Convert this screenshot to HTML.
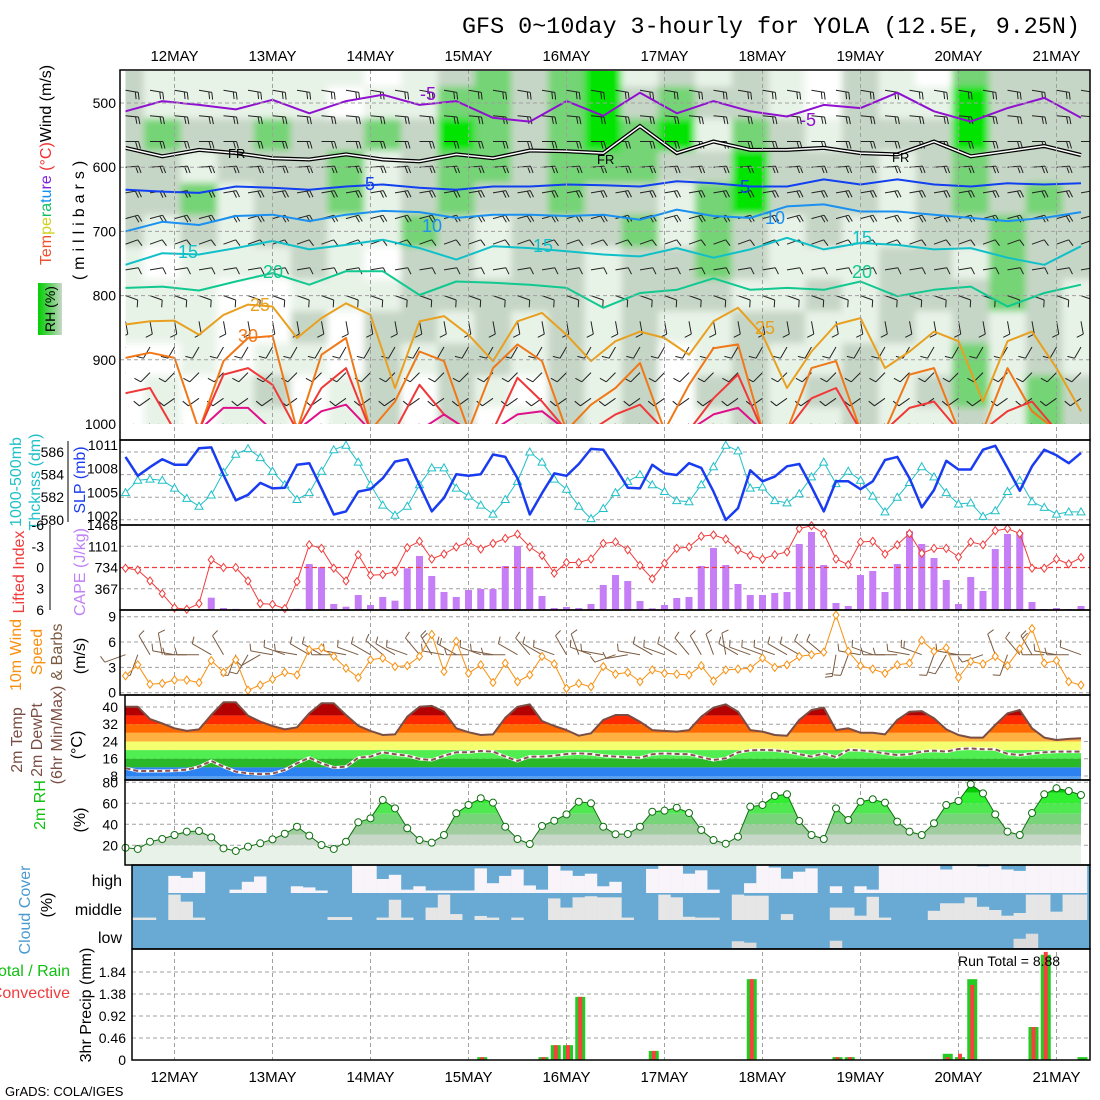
<!DOCTYPE html>
<html><head><meta charset="utf-8"><title>GFS meteogram YOLA</title>
<style>
html,body{margin:0;padding:0;background:#fff;}
svg{display:block;font-family:"Liberation Sans",sans-serif;}
.tk{font-size:14px;fill:#000;}
.lab{font-size:16px;}
</style></head>
<body>
<svg id="chart" xmlns="http://www.w3.org/2000/svg" width="1100" height="1100" viewBox="0 0 1100 1100">
<defs>
<clipPath id="clipUp"><rect x="125.5" y="71" width="964.5" height="353"/></clipPath>
<clipPath id="clipCloud"><rect x="132" y="865" width="958" height="84"/></clipPath>
<filter id="blur" x="-5%" y="-5%" width="110%" height="110%"><feGaussianBlur stdDeviation="3.5"/></filter>
<linearGradient id="rhbox" x1="0" y1="0" x2="1" y2="0"><stop offset="0" stop-color="#00d000"/><stop offset="0.5" stop-color="#60d060"/><stop offset="1" stop-color="#c8d8c8"/></linearGradient>
</defs>
<rect x="0" y="0" width="1100" height="1100" fill="#fff"/>
<text x="1080" y="33" text-anchor="end" font-family="Liberation Mono, monospace" font-size="23" textLength="618" lengthAdjust="spacingAndGlyphs">GFS 0~10day 3-hourly for YOLA (12.5E, 9.25N)</text>

<g id="layerUp"></g>
<g id="layerGrid"></g>
<g id="layerMarks"></g>

<g font-size="18">
<text x="420" y="100" fill="#9010d0">-5</text>
<text x="800" y="126" fill="#9010d0">-5</text>
<text x="228" y="158" font-size="13" fill="#000">FR</text>
<text x="597" y="164" font-size="13" fill="#000">FR</text>
<text x="892" y="162" font-size="13" fill="#000">FR</text>
<text x="365" y="190" fill="#1040f0">5</text>
<text x="740" y="193" fill="#1040f0">5</text>
<text x="422" y="232" fill="#1a90f0">10</text>
<text x="765" y="224" fill="#1a90f0">10</text>
<text x="178" y="258" fill="#10c0c8">15</text>
<text x="533" y="252" fill="#10c0c8">15</text>
<text x="852" y="244" fill="#10c0c8">15</text>
<text x="263" y="278" fill="#10c890">20</text>
<text x="852" y="278" fill="#10c890">20</text>
<text x="250" y="311" fill="#e8a020">25</text>
<text x="755" y="334" fill="#e8a020">25</text>
<text x="238" y="342" fill="#f07818">30</text>
</g>

<g class="lab">
<text transform="translate(51,165) rotate(-90)" text-anchor="middle"><tspan fill="#f05030">Tem</tspan><tspan fill="#d0d020">pe</tspan><tspan fill="#10c060">ra</tspan><tspan fill="#1090f0">tu</tspan><tspan fill="#8020e0">re</tspan><tspan fill="#f03030"> (°C)</tspan><tspan fill="#000">Wind (m/s)</tspan></text>
<text transform="translate(84,218) rotate(-90)" text-anchor="middle" letter-spacing="5">(millibars)</text>
<rect x="38" y="283" width="24" height="52" fill="url(#rhbox)"/>
<text transform="translate(55,309) rotate(-90)" text-anchor="middle" font-size="14">RH (%)</text>
<text transform="translate(21,482) rotate(-90)" text-anchor="middle" fill="#20c0c8">1000-500mb</text>
<text transform="translate(40,482) rotate(-90)" text-anchor="middle" fill="#20c0c8">Thcknss (dm)</text>
<text transform="translate(85,480) rotate(-90)" text-anchor="middle" fill="#1a3cf0">SLP (mb)</text>
<text transform="translate(24,572) rotate(-90)" text-anchor="middle" fill="#f03c3c">Lifted Index</text>
<text transform="translate(85,572) rotate(-90)" text-anchor="middle" fill="#c080f8">CAPE (J/kg)</text>
<text transform="translate(21,655) rotate(-90)" text-anchor="middle" fill="#f89010">10m Wind</text>
<text transform="translate(42,652) rotate(-90)" text-anchor="middle" fill="#f89010">Speed</text>
<text transform="translate(62,652) rotate(-90)" text-anchor="middle" fill="#7a5a40">&amp; Barbs</text>
<text transform="translate(85,656) rotate(-90)" text-anchor="middle">(m/s)</text>
<text transform="translate(22,740) rotate(-90)" text-anchor="middle" fill="#7a4e44">2m Temp</text>
<text transform="translate(42,740) rotate(-90)" text-anchor="middle" fill="#7a4e44">2m DewPt</text>
<text transform="translate(62,735) rotate(-90)" text-anchor="middle" fill="#7a4e44">(6hr Min/Max)</text>
<text transform="translate(82,745) rotate(-90)" text-anchor="middle">(°C)</text>
<text transform="translate(45,805) rotate(-90)" text-anchor="middle" fill="#10c010">2m RH</text>
<text transform="translate(85,820) rotate(-90)" text-anchor="middle">(%)</text>
<text transform="translate(30,910) rotate(-90)" text-anchor="middle" fill="#4a9ad0">Cloud Cover</text>
<text transform="translate(52,905) rotate(-90)" text-anchor="middle">(%)</text>
<text x="70" y="976" text-anchor="end" fill="#10c010">Total / Rain</text>
<text x="70" y="998" text-anchor="end" fill="#f03c3c">Convective</text>
<text transform="translate(91,1005) rotate(-90)" text-anchor="middle">3hr Precip (mm)</text>
<text x="122" y="886" text-anchor="end">high</text>
<text x="122" y="915" text-anchor="end">middle</text>
<text x="122" y="943" text-anchor="end">low</text>
<text x="958" y="966" font-size="14">Run Total = 8.88</text>
<text x="5" y="1096" font-size="13">GrADS: COLA/IGES</text>
</g>
<g id="layerAxes"></g>
</svg>
<script>
const days = ['12MAY','13MAY','14MAY','15MAY','16MAY','17MAY','18MAY','19MAY','20MAY','21MAY'];
const slp = [1009.5,1007.1,1008.2,1009.2,1008.5,1008.5,1010.6,1010.7,1007.2,1004.0,
1004.7,1006.2,1005.5,1005.6,1008.5,1008.7,1005.5,1002.2,1002.6,1005.1,
1005.4,1006.8,1008.9,1009.2,1005.9,1002.6,1004.3,1007.3,1007.1,1007.3,
1009.8,1009.5,1006.8,1002.2,1004.9,1007.4,1007.1,1008.6,1010.5,1010.4,
1008.1,1005.6,1005.5,1008.5,1007.4,1007.2,1008.7,1008.1,1005.1,1001.5,
1003.0,1007.8,1006.4,1007.0,1008.3,1008.6,1005.7,1002.6,1006.4,1006.4,
1005.4,1006.4,1009.1,1009.5,1006.8,1003.1,1005.3,1009.0,1007.9,1007.9,
1010.4,1010.9,1008.1,1005.2,1008.3,1010.4,1009.7,1008.7,1010.0];
const thickness = [582.4,583.5,583.6,583.5,582.8,581.9,581.2,582.2,584.2,585.8,
586.3,585.5,584.3,583.1,581.8,582.4,584.3,586.2,586.6,585.1,
583.1,581.3,580.4,581.2,583.1,584.6,584.6,582.8,582.1,581.3,
580.5,581.8,583.4,586.0,585.1,583.6,582.7,581.2,580.1,581.0,
582.4,583.4,584.0,583.1,582.5,581.7,581.6,583.1,584.7,586.6,
586.1,582.8,582.9,581.7,581.5,582.3,583.8,585.1,583.2,584.3,
583.5,582.1,580.7,582.0,583.3,584.7,583.8,582.4,581.4,581.5,
580.3,580.8,582.5,583.5,581.6,581.1,580.5,580.7,580.7];
const liftedIndex = [0.1,0.35,1.9,3.7,5.7,5.9,5.1,-1.1,0,0,
1.9,5.1,5.2,5.8,2.0,-3.2,-2.7,0.1,1.9,-1.8,
1.1,1.0,0.6,-2.8,-3.7,-1.2,-1.9,-2.9,-3.6,-2.6,
-3.4,-4.1,-4.7,-2.9,-1.7,0.8,-0.7,-0.7,-1.2,-3.4,
-3.6,-2.5,-0.3,1.6,-0.6,-2.7,-2.9,-4.4,-4.6,-4.0,
-2.5,-1.7,-1.2,-1.8,-2.2,-5.5,-5.9,-4.8,-1.2,-0.4,
-3.6,-3.7,-1.9,-3.2,-4.8,-2.0,-2.7,-2.7,-1.5,-3.6,
-3.2,-5.2,-5.5,-4.8,0.1,0.1,-1.2,-0.5,-1.4];
const cape = [0,0,0,0,0,0,0,213,35,20,
0,0,0,0,20,794,743,104,57,259,
86,225,161,720,933,587,311,225,345,363,
363,760,1105,743,242,35,52,35,104,432,
604,501,155,29,86,207,225,760,1071,777,
449,259,259,294,311,1140,1347,777,121,69,
604,674,311,794,1364,1140,898,518,104,570,
328,1053,1313,1347,138,17,35,17,69];
const windSpeed = [2.0,3.3,1.0,1.1,1.5,1.5,1.2,3.8,2.4,3.9,
0.3,0.9,1.6,2.4,2.1,5.1,5.3,4.3,2.9,1.8,
3.9,4.1,3.1,3.2,4.3,6.9,2.5,6.1,2.3,3.3,
1.2,3.5,1.3,2.1,4.3,3.4,0.5,1.1,0.7,3.1,
2.2,2.4,1.3,2.7,2.3,2.2,2.1,3.2,1.4,2.7,
2.8,2.9,4.1,3.0,3.3,4.3,4.5,4.8,9.2,4.9,
3.2,2.8,2.3,3.3,3.5,6.2,4.9,5.3,1.8,3.7,
3.4,4.3,3.2,5.2,7.6,3.5,3.8,1.3,0.9];
const windDir = [250,200,330,350,280,270,270,300,330,200,
210,240,280,290,280,300,300,270,280,290,
300,310,300,290,320,330,280,300,270,290,
280,270,300,320,300,290,330,340,290,280,
250,260,280,300,290,300,320,330,340,350,
300,290,290,290,300,300,310,310,190,200,
280,290,270,270,280,290,200,210,280,270,
250,340,200,320,330,270,280,270,290];
const temp2m = [40.1,40.1,34.4,32.4,30.1,28.9,29.6,36.3,42.2,42.2,
36.0,33.2,31.2,29.6,30.6,37.1,41.7,41.7,36.3,31.3,
28.9,27.0,27.3,35.5,40.1,40.5,37.8,30.1,28.3,27.0,
27.3,35.0,40.1,41.2,33.5,31.2,29.3,26.7,27.8,34.0,
36.3,36.3,33.2,29.3,28.9,28.6,29.3,35.5,39.7,41.2,
37.8,29.3,28.6,27.0,26.7,34.0,38.6,39.7,29.3,30.1,
28.1,28.1,27.3,34.0,37.8,38.1,34.8,29.6,27.0,25.8,
25.8,31.7,37.1,38.6,30.1,25.8,24.7,25.2,25.5];
const dew2m = [11.6,10.3,10.3,10.3,10.5,10.9,12.3,15.0,12.3,10.0,
9.2,8.9,9.1,10.8,13.9,16.5,13.9,11.9,12.3,16.5,
17.0,19.0,18.1,17.4,15.9,15.4,17.4,19.0,19.0,19.6,
19.3,17.0,15.0,17.0,17.0,17.4,18.2,18.5,18.2,17.4,
17.0,16.7,16.5,18.1,18.5,18.2,18.1,16.7,15.4,16.2,
19.0,19.9,20.1,19.9,19.3,18.1,17.0,18.5,16.7,20.1,
19.9,19.3,18.5,17.7,18.1,19.3,19.8,19.3,20.5,20.8,
20.4,20.4,18.3,17.7,18.5,19.0,19.3,19.3,19.3];
const rh2m = [17.7,16.5,23.4,26,29.8,33,33.6,27.6,17.1,14.6,
18.7,21.9,25.7,31,37.7,29.2,20.3,16.5,23.4,41.9,
45.7,63.1,55.2,36.2,25,22.5,29.8,50.5,58.4,64.8,
60.6,37.7,26,21.2,38.4,43.4,49.5,61.5,60,37.7,
30.5,30.8,37.7,52,53,55.8,50.8,34.6,25,21.5,
28.2,56.8,58.4,67,68.6,43.1,29.8,26,55.2,44.1,
61.5,63.8,60.6,42.5,33,29.8,41,58.4,62.2,78.1,
69.5,49.5,33,29.8,50.8,68.6,74.3,71.7,67.9];
const cloudHigh = [100,100,100,100,39,46,24,100,100,88,
60,41,100,100,76,80,91,100,100,1,
1,50,35,88,76,91,91,91,91,12,
65,39,16,73,88,1,20,39,31,76,
60,100,100,14,1,1,31,19,88,100,
100,65,1,9,49,24,12,100,76,100,
76,88,1,1,1,1,1,16,1,1,
5,1,16,21,1,1,1,1,1];
const cloudMid = [91,91,91,100,6,32,91,100,100,100,
100,100,100,100,100,100,100,89,89,100,
100,91,25,91,100,54,6,78,100,85,
91,100,91,100,100,20,54,16,12,16,
16,91,100,100,6,16,88,91,91,100,
6,10,10,100,78,100,100,100,54,54,
84,14,91,100,100,100,66,38,38,16,
51,63,84,74,6,6,69,6,6];
const cloudLow = [100,100,100,100,100,100,100,100,100,100,
100,100,100,100,100,100,100,100,100,100,
100,100,100,100,100,100,100,100,100,100,
100,100,100,100,100,100,100,100,100,100,
100,100,100,100,100,100,100,100,100,100,
76,81,100,100,100,100,100,100,74,100,
100,100,100,100,100,100,100,100,100,100,
100,100,100,67,49,100,100,100,100];
const precipTotal = [0,0,0,0,0,0,0,0,0,0,
0,0,0,0,0,0,0,0,0,0,
0,0,0,0,0,0,0,0,0,0.06,
0,0,0,0,0.06,0.31,0.31,1.32,0,0,
0,0,0,0.19,0,0,0,0,0,0,
0,1.69,0,0,0,0,0,0,0.06,0.06,
0,0,0,0,0,0,0,0.13,0.06,1.69,
0,0,0,0,0.69,2.2,0,0,0.06];
const precipConv = [0,0,0,0,0,0,0,0,0,0,
0,0,0,0,0,0,0,0,0,0,
0,0,0,0,0,0,0,0,0,0.06,
0,0,0,0,0.06,0.31,0.31,1.32,0,0,
0,0,0,0.19,0,0,0,0,0,0,
0,1.69,0,0,0,0,0,0,0.06,0.06,
0,0,0,0,0,0,0,0.06,0.13,1.57,
0,0,0,0,0.69,2.26,0,0,0];
const rhLevels = [450,500,550,600,650,700,750,800,850,900,950,1000];
const rhRow450 = [2,1,1,1,1,1,1,0,1,2,3,2,3,4,1,2,1,2,1,0,2,1,0,3,2,2,2];
const rhRow500 = [2,1,1,1,1,1,0,1,1,3,3,2,3,4,2,3,2,2,1,0,2,1,1,4,2,2,2];
const rhRow550 = [2,3,2,2,3,2,2,3,2,4,3,2,3,4,3,4,1,3,2,1,2,2,2,4,2,2,2];
const rhRow600 = [2,2,1,2,2,2,3,1,2,3,3,2,3,3,3,2,2,4,2,2,2,1,2,3,2,2,2];
const rhRow650 = [2,2,3,1,2,2,3,1,2,3,2,2,3,2,2,1,3,4,2,2,2,1,2,3,2,3,2];
const rhRow700 = [2,1,2,1,2,2,1,1,3,2,1,2,2,2,3,1,3,2,1,2,1,1,2,2,3,2,2];
const rhRow750 = [1,0,1,1,1,2,1,0,2,2,1,2,2,1,2,2,3,2,1,1,1,2,2,1,3,2,2];
const rhRow800 = [1,1,1,0,0,1,1,1,2,2,2,2,2,1,2,2,2,1,1,2,1,2,2,2,3,2,1];
const rhRow850 = [1,1,1,0,0,2,0,2,2,1,2,1,2,1,2,1,1,2,2,1,1,2,1,2,1,2,1];
const rhRow900 = [0,0,1,0,1,1,0,2,1,2,2,1,2,1,2,0,1,2,1,1,2,1,1,3,1,2,1];
const rhRow950 = [0,1,0,1,2,0,1,2,0,2,1,0,2,1,2,0,2,2,1,2,2,1,2,3,1,3,2];
const rhRow1000 = [0,1,0,1,1,0,1,2,0,2,0,1,2,1,2,0,1,2,1,1,2,1,1,2,1,3,2];
const isoM5 = [513,497,503,510,495,516,497,487,503,497,523,529,497,520,484,516,497,513,521,503,508,484,513,529,508,492,523];
const isoFR = [570,583,573,578,586,588,580,588,591,580,586,574,575,578,536,578,560,573,573,570,578,580,560,583,575,567,581];
const iso5 = [635,638,640,630,632,635,630,627,632,635,630,630,627,628,630,622,625,630,630,619,627,619,627,630,625,627,625];
const iso10 = [700,685,690,676,674,684,674,668,670,679,674,674,676,674,682,666,676,679,661,658,669,669,674,679,684,679,670];
const iso15 = [752,734,736,726,715,728,721,713,726,744,723,726,731,736,739,726,741,728,710,728,718,721,728,726,741,752,723];
const iso20 = [788,786,792,778,765,783,762,762,799,778,780,783,788,819,796,791,773,791,788,791,778,801,791,786,817,796,783];
const iso25 = [845,840,839,861,830,814,817,866,835,812,830,944,840,832,861,902,840,827,861,902,871,856,866,892,840,819,861,944,887,845,835,913,887,856,871,965,871,856,913,980];
const iso30 = [897,889,897,1010,902,866,863,1010,892,866,1010,965,887,902,1010,913,876,902,1010,970,944,905,1010,939,882,876,1010,1010,913,902,1010,1010,923,913,1010,1010,913,980,1010,1010];
const iso35 = [952,944,1010,1010,923,913,939,1010,944,913,1010,1010,939,985,1010,1010,928,965,1010,1010,985,970,1010,1010,960,923,1010,1010,960,944,1010,1010,975,965,1010,1010,980,965,1010,1010];
const iso40 = [1010,1010,1010,1010,975,975,1010,1010,980,970,1010,1010,1010,985,1010,1010,985,980,1010,1010,1010,1010,1010,1010,985,975,1010,1010,1010,1010,1010,1010,1010,1010,1010,1010,1010,1010,1010,1010];
const barbLevels = [480,520,560,600,640,680,720,760,800,840,880,920,960,1000];
const barbDir = [100,95,90,85,80,75,70,80,110,170,210,225,235,245];
const barbSpd = [8,8,7,7,6,6,5,5,4,4,4,4,3,3];
const pressTicks = [500,600,700,800,900,1000];
const slpTicks = [1011,1008,1005,1002];
const thkTicks = [586,584,582,580];
const capeTicks = [1468,1101,734,367];
const liTicks = [-6,-3,0,3,6];
const wsTicks = [9,6,3,0];
const tTicks = [40,32,24,16,8];
const rhTicks = [80,60,40,20];
const prTicks = [1.84,1.38,0.92,0.46,0];

const NS='http://www.w3.org/2000/svg';
const X = i => 125.5 + 12.25*i;
const dayX = k => 174.5 + 98*k;
const pY = p => 103 + (p-500)*0.642;
const slpY = v => 445 + (1011-v)*7.9;
const thkY = v => 452 + (586-v)*11.3;
const capeY = v => 610 - v/1468*85;
const liY = v => 567.5 + v*7.08;
const wsY = v => 692.7 - v*8.44;
const tY = v => 707 + (40-v)*2.156;
const rhY = v => 782.3 + (80-v)*1.05;
const prY = v => 1060 - v/1.84*88;

function mk(tag, attrs, parent){
  const e=document.createElementNS(NS,tag);
  for(const k in attrs) e.setAttribute(k, attrs[k]);
  parent.appendChild(e);
  return e;
}
const up=document.getElementById('layerUp');
const grid=document.getElementById('layerGrid');
const marks=document.getElementById('layerMarks');
const axes=document.getElementById('layerAxes');

const rhColors=['#ffffff','#e8f3e8','#c6d6c6','#74d474','#00e400'];
const rhRows=[rhRow450,rhRow500,rhRow550,rhRow600,rhRow650,rhRow700,rhRow750,rhRow800,rhRow850,rhRow900,rhRow950,rhRow1000];
const upClip=mk('g',{'clip-path':'url(#clipUp)'},up);


const upBg=mk('rect',{x:120,y:70,width:970,height:360,fill:'#e8f3e8'},upClip);


const rhG=mk('g',{filter:'url(#blur)'},upClip);


rhRows.forEach((row,li)=>{
  const yc=pY(rhLevels[li]);
  row.forEach((c,k)=>{
    const r=mk('rect',{x:X(3*k)-18.5,y:yc-16.5,width:37.5,height:33,fill:rhColors[c]},rhG);
    
    
  });
});
const barbG=mk('g',{stroke:'#222','stroke-width':1,fill:'none'},upClip);


function barb(parent,x,y,dir,spd,L){
  const a=dir*Math.PI/180, sx=Math.sin(a), sy=-Math.cos(a);
  const ex=x+sx*L, ey=y+sy*L;
  let d='M'+x.toFixed(1)+','+y.toFixed(1)+'L'+ex.toFixed(1)+','+ey.toFixed(1);
  const n=Math.max(1,Math.round(spd/4));
  for(let j=0;j<n;j++){
    const bx=ex-sx*j*3, by=ey-sy*j*3;
    d+='M'+bx.toFixed(1)+','+by.toFixed(1)+'l'+((-sy*7)+sx*2).toFixed(1)+','+((sx*7)+sy*2).toFixed(1);
  }
  return mk('path',{d:d},parent);
}
barbLevels.forEach((p,li)=>{
  for(let i=0;i<79;i+=2){
    const b=barb(barbG,X(i),pY(p),barbDir[li],barbSpd[li],13);
    
    
  }
});
function contour(arr,stepI,color,w,name,isFR){
  let d='';
  arr.forEach((p,k)=>{ d+=(k?'L':'M')+X(k*stepI).toFixed(1)+','+pY(p).toFixed(1); });
  if(isFR){
    const o=mk('path',{d:d,stroke:'#000','stroke-width':4,fill:'none'},upClip);
    
    
    const n=mk('path',{d:d,stroke:'#fff','stroke-width':1.5,fill:'none'},upClip);
    
    
  } else {
    const c=mk('path',{d:d,stroke:color,'stroke-width':w,fill:'none','stroke-linejoin':'round'},upClip);
    
    
  }
}
contour(isoM5,3,'#9010d0',2,'isotherm-minus5');
contour(isoFR,3,'#000',2,'isotherm-freezing',true);
contour(iso5,3,'#1040f0',2,'isotherm-5');
contour(iso10,3,'#1a90f0',2,'isotherm-10');
contour(iso15,3,'#10c0c8',2,'isotherm-15');
contour(iso20,3,'#10c890',2,'isotherm-20');
contour(iso25,2,'#e8a020',2,'isotherm-25');
contour(iso30,2,'#f07818',2,'isotherm-30');
contour(iso35,2,'#f03838',2,'isotherm-35');
contour(iso40,2,'#e0108a',2,'isotherm-40');

const gs={stroke:'#a0a0a0','stroke-width':1,'stroke-dasharray':'4,3'};
function hline(y,x1,name){
  const l=mk('line',Object.assign({x1:x1,x2:1090,y1:y,y2:y},gs),grid);
  
  
}
days.forEach((d,k)=>{
  const v=mk('line',Object.assign({x1:dayX(k),x2:dayX(k),y1:70,y2:1060},gs),grid);
  
  
  const t1=mk('text',{x:dayX(k),y:61,'text-anchor':'middle','font-size':15},axes);
  t1.textContent=d;
  
  
  const t2=mk('text',{x:dayX(k),y:1082,'text-anchor':'middle','font-size':15},axes);
  t2.textContent=d;
  
  
});
pressTicks.forEach(p=>{ if(p<1000) hline(pY(p),120,'pressure-gridline'); });
thkTicks.forEach(v=>hline(thkY(v),120,'thickness-gridline'));
[-3,3].forEach(v=>hline(liY(v),120,'li-gridline'));
wsTicks.forEach(v=>hline(wsY(v),120,'wind-gridline'));
prTicks.forEach(v=>{ if(v>0) hline(prY(v),132,'precip-gridline'); });

function tick(x,y,txt,name){
  const t=mk('text',{x:x,y:y+5,'text-anchor':'end','class':'tk'},axes);
  t.textContent=txt;
  
  
}
pressTicks.forEach(p=>tick(116,pY(p),String(p),'pressure-tick'));
slpTicks.forEach(v=>tick(118,slpY(v),String(v),'slp-tick'));
thkTicks.forEach(v=>tick(64,thkY(v),String(v),'thickness-tick'));
capeTicks.forEach(v=>tick(118,capeY(v),String(v),'cape-tick'));
liTicks.forEach(v=>tick(44,liY(v),String(v),'li-tick'));
wsTicks.forEach(v=>tick(116,wsY(v),String(v),'wind-tick'));
tTicks.forEach(v=>tick(118,tY(v),String(v),'temp-tick'));
rhTicks.forEach(v=>tick(118,rhY(v),String(v),'rh-tick'));
prTicks.forEach(v=>tick(126,prY(v),v===0?'0':v.toFixed(2),'precip-tick'));
[['thickness-axis',68,441,68,522],['li-axis',50,525,50,610]].forEach(a=>{
  const l=mk('line',{x1:a[1],y1:a[2],x2:a[3],y2:a[4],stroke:'#000','stroke-width':1},axes);
  
  
});

function poly(arr,f,color,w,name,parent){
  const pts=arr.map((v,i)=>X(i).toFixed(1)+','+f(v).toFixed(1)).join(' ');
  const p=mk('polyline',{points:pts,fill:'none',stroke:color,'stroke-width':w,'stroke-linejoin':'round'},parent||marks);
  
  
}
poly(thickness,thkY,'#20c0c8',1,'thickness-line');
thickness.forEach((v,i)=>{
  const x=X(i), y=thkY(v);
  const t=mk('path',{d:`M${x},${y-4}L${x+4},${y+3}L${x-4},${y+3}Z`,fill:'#fff',stroke:'#20c0c8','stroke-width':1},marks);
  
  
});
poly(slp,slpY,'#1a3cf0',2.5,'slp-line');

cape.forEach((v,i)=>{
  if(v<=0) return;
  const r=mk('rect',{x:X(i)-3.5,y:capeY(v),width:7,height:610-capeY(v),fill:'#c57ef6'},marks);
  
  
});
const zl=mk('line',{x1:120,x2:1090,y1:liY(0),y2:liY(0),stroke:'#f03c3c','stroke-width':1.2,'stroke-dasharray':'5,3'},marks);


poly(liftedIndex,liY,'#f03c3c',1,'lifted-index-line');
liftedIndex.forEach((v,i)=>{
  const x=X(i), y=liY(v);
  const d=mk('path',{d:`M${x},${y-4}L${x+3},${y}L${x},${y+4}L${x-3},${y}Z`,fill:'#fff',stroke:'#f03c3c','stroke-width':1},marks);
  
  
});

const wbG=mk('g',{stroke:'#7a5a40','stroke-width':1,fill:'none'},marks);


windDir.forEach((d,i)=>{
  const b=barb(wbG,X(i),wsY(4.5),d,windSpeed[i],22);
  
  
});
poly(windSpeed,wsY,'#f89010',1,'wind-speed-line');
windSpeed.forEach((v,i)=>{
  const x=X(i), y=wsY(v);
  const d=mk('path',{d:`M${x},${y-4}L${x+3},${y}L${x},${y+4}L${x-3},${y}Z`,fill:'#fff',stroke:'#f89010','stroke-width':1},marks);
  
  
});

const tBands=[[99,36,'#b40000'],[36,32,'#ff2a00'],[32,28,'#ff6a00'],[28,24,'#ffb040'],[24,20,'#f4ff70'],[20,16,'#50ee50'],[16,12,'#28b828'],[12,8,'#2c82f0'],[8,-99,'#5aa0f0']];
const tClipPts=temp2m.map((v,i)=>X(i).toFixed(1)+','+tY(v).toFixed(1)).join(' ')+` ${X(78)},780 ${X(0)},780`;
const cp=mk('clipPath',{id:'tArea'},document.querySelector('defs'));
mk('polygon',{points:tClipPts},cp);
const tg=mk('g',{'clip-path':'url(#tArea)'},marks);


tBands.forEach(b=>{
  const y1=Math.max(695,tY(b[0])), y2=Math.min(780,tY(b[1]));
  const r=mk('rect',{x:125,y:y1,width:965,height:Math.max(0,y2-y1),fill:b[2]},tg);
  
  
});
tTicks.forEach(v=>hline(tY(v),125,'temp-gridline'));
poly(dew2m,tY,'#ffffff',3,'dewpoint-halo');
const dl=mk('polyline',{points:dew2m.map((v,i)=>X(i).toFixed(1)+','+tY(v).toFixed(1)).join(' '),fill:'none',stroke:'#8a5050','stroke-width':2,'stroke-dasharray':'5,3'},marks);


poly(temp2m,tY,'#7a4e44',2,'temp-line');

const rhBands=[[100,70,'#00cc00'],[70,60,'#30ee30'],[60,50,'#50e850'],[50,40,'#78d478'],[40,30,'#a0cca0'],[30,20,'#c8d8c8'],[20,-10,'#e8f2e8']];
const rcp=mk('clipPath',{id:'rhArea'},document.querySelector('defs'));
mk('polygon',{points:rh2m.map((v,i)=>X(i).toFixed(1)+','+rhY(v).toFixed(1)).join(' ')+` ${X(78)},865 ${X(0)},865`},rcp);
const rg=mk('g',{'clip-path':'url(#rhArea)'},marks);


rhBands.forEach(b=>{
  const y1=Math.max(780,rhY(b[0])), y2=Math.min(865,rhY(b[1]));
  const r=mk('rect',{x:125,y:y1,width:965,height:Math.max(0,y2-y1),fill:b[2]},rg);
  
  
});
rhTicks.forEach(v=>hline(rhY(v),125,'rh-gridline'));
poly(rh2m,rhY,'#107010',1,'rh-line');
rh2m.forEach((v,i)=>{
  const c=mk('circle',{cx:X(i),cy:rhY(v),r:3.5,fill:'#fff',stroke:'#107010','stroke-width':1},marks);
  
  
});

const cg=mk('g',{'clip-path':'url(#clipCloud)'},marks);


const cbg=mk('rect',{x:132,y:865,width:958,height:84,fill:'#68aad4'},cg);


const rows=[[cloudHigh,865,893,'#f8f4fa','cloud-high-block'],[cloudMid,893,920,'#e6e6e6','cloud-middle-block'],[cloudLow,920,948,'#dcdcdc','cloud-low-block']];
rows.forEach(rw=>{
  const h=rw[2]-rw[1];
  rw[0].forEach((cov,i)=>{
    const clear=(100-cov)/100*h;
    if(clear<=0) return;
    const r=mk('rect',{x:X(i)-6.2,y:rw[2]-clear,width:12.4,height:clear,fill:rw[3]},cg);
    
    
  });
});
[893,920].forEach(y=>hline(y,132,'cloud-gridline'));

precipTotal.forEach((v,i)=>{
  if(v<=0) return;
  const r=mk('rect',{x:X(i)-3.5,y:prY(v),width:10,height:1060-prY(v),fill:'#22cc22'},marks);
  
  
});
precipConv.forEach((v,i)=>{
  if(v<=0) return;
  const r=mk('rect',{x:X(i)-0.5,y:prY(v),width:4,height:1060-prY(v),fill:'#f84040'},marks);
  
  
});

const frames=[['upper-frame',120,70,970,370],['slp-frame',120,440,970,85],['cape-frame',120,525,970,85],['wind-frame',120,610,970,85],['temp-frame',125,695,965,85],['rh-frame',125,780,965,85],['cloud-frame',132,865,958,84],['precip-frame',132,949,958,111]];
frames.forEach(f=>{
  const r=mk('rect',{x:f[1],y:f[2],width:f[3],height:f[4],fill:'none',stroke:'#000','stroke-width':1.5},axes);
  
  
});
</script>
</body></html>
